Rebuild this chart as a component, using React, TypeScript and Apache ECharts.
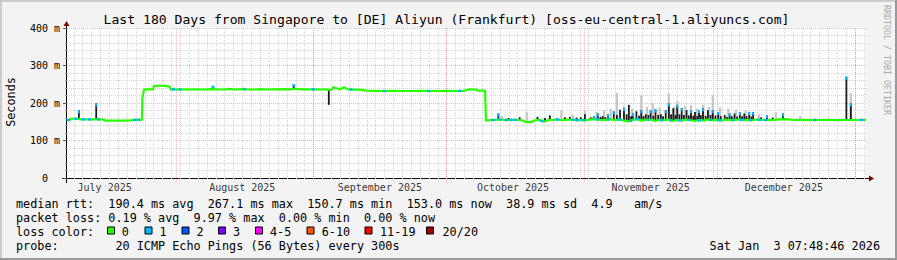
import React, { useEffect, useRef } from 'react';
import * as echarts from 'echarts';

// x values are days since 2025-07-01 00:00
const X_MIN = 6.52;
const X_MAX = 186.52;

const yTicks = [0, 100, 200, 300, 400];

const monthStarts = [31, 62, 92, 123, 153, 184];
const monthLabels: [number, string][] = [
  [15, 'July 2025'],
  [46, 'August 2025'],
  [77, 'September 2025'],
  [107, 'October 2025'],
  [138, 'November 2025'],
  [168, 'December 2025'],
];

// median rtt (ms)
const median: [number, number][] = [
  [6.5, 154], [7.2, 155], [7.3, 158], [8, 158], [9, 158], [9.5, 156], [10, 156.5], [11, 156.5], [12, 156.5],
  [13, 156.5], [14, 156.5], [14.8, 156], [15, 153], [16, 153], [17, 153], [18, 153], [19, 153], [20, 153],
  [21, 154], [22, 155], [23, 155], [23.4, 155], [23.5, 215], [23.9, 236.5], [25, 236.5], [25.9, 236.5],
  [26.1, 245], [27, 246], [28, 246], [29, 245], [29.6, 244], [29.8, 236.5], [31, 236.5], [32, 236],
  [33, 236.5], [34, 236], [35, 236.5], [36, 236.5], [37, 236], [38, 236.5], [39, 237], [40, 236.5],
  [41, 236], [42, 236], [43, 237.5], [44, 236.5], [45, 236], [46, 237.5], [47, 236.5], [48, 236],
  [49, 236], [50, 237], [51, 236.5], [52, 236], [53, 236.5], [54, 236.5], [55, 237], [56, 236.5],
  [57, 236.5], [58, 238], [59, 236.5], [60, 236.5], [61, 236.5], [62, 236.5], [63, 236.5], [64, 236],
  [65, 236.5], [66, 234], [66.5, 242], [67, 240], [68, 236.5], [69, 242], [69.5, 238], [70, 236],
  [71, 235.5], [72, 235.5], [73, 235], [74, 233], [76, 232.5], [78, 232], [80, 232.5], [82, 232],
  [84, 232], [86, 232.5], [88, 232], [90, 232], [92, 232.5], [94, 232], [96, 232.5], [97.2, 236.5],
  [98.8, 236], [99, 233], [100, 233], [100.7, 233], [100.9, 153], [101, 153], [102, 154.7], [103, 155],
  [104, 156], [105, 154.7], [106, 154.7], [107, 155], [108, 154.7], [109, 154], [110, 149], [111, 149],
  [112, 154], [113, 155], [114, 150], [115, 154.7], [116, 155], [117, 156], [118, 154], [119, 155],
  [120, 156], [121, 154], [122, 155], [123, 154], [124, 155], [125, 157], [126, 156], [127, 154],
  [128, 155], [129, 157], [130, 154], [131, 156], [132, 153], [133, 151], [134, 155], [135, 157],
  [136, 153], [137, 155], [138, 156], [139, 152], [140, 155], [141, 154], [142, 156], [143, 152],
  [144, 155], [145, 153], [146, 156], [147, 154], [148, 152], [149, 155], [150, 153], [151, 156],
  [152, 154], [153, 155], [154, 153], [155, 156], [156, 154], [157, 155], [158, 156], [159, 154],
  [160, 155], [161, 154], [162, 156], [163, 154.7], [164, 154.7], [165, 154.7], [166, 155], [167, 156.5],
  [168, 157], [169, 156.5], [170, 154.7], [172, 154.7], [174, 154.5], [176, 154.7], [178, 154.7],
  [180, 154.5], [182, 154.7], [184, 154.7], [186.5, 154.7],
];

// median points drawn with 1/20 loss colour
const lossOne: [number, number][] = [
  [6.8, 155], [8.5, 158], [10.2, 156.5], [11.6, 156.5], [13.6, 156.5], [21.8, 154.8], [22.6, 155],
  [30.5, 236.5], [32, 236], [39.4, 243], [46.5, 237], [57.6, 247], [62, 236.5], [70.5, 236], [78, 232],
  [88, 232], [95, 232.3], [102.5, 154.7], [104, 156], [105.5, 154.7], [106.5, 154.7], [107.5, 155],
  [113.5, 152], [117, 156], [120.5, 155], [121.5, 154.5], [123, 154], [126, 156], [128.5, 156],
  [131, 156], [133.5, 153], [135, 157], [137.5, 155.5], [140.5, 154.5], [142.5, 154], [144.5, 154],
  [146.5, 155], [149, 153.5], [151.5, 155], [153.5, 154], [156.5, 154.5], [158.5, 155], [160.5, 154.5],
  [162.5, 155], [164, 154.7], [175, 154.7], [185.5, 154.7],
];

// dense smoke (dark): [day, low ms, high ms, loss-coloured top]
const darkSmoke: [number, number, number, number][] = [
  [9.2, 158, 181, 1], [13.1, 156.5, 199, 1], [39.4, 237, 245, 0], [57.6, 236.5, 248, 0], [65.5, 195, 236, 0],
  [103.7, 156, 172, 1], [106.0, 154.7, 160, 0], [108.5, 154.7, 162, 0], [112.5, 154, 163, 0], [114.2, 150, 160, 0],
  [115.3, 155, 167, 0], [118.7, 154, 162, 0], [119.8, 155, 163, 0], [121.3, 154, 161, 0], [122.3, 155, 162, 0],
  [123.2, 154, 170, 0], [124.5, 155, 162, 0],
  [125.2, 156, 165, 1], [126.1, 156, 172, 1], [126.7, 155, 163, 0], [127.2, 154, 165, 0], [127.8, 154, 162, 0],
  [128.4, 155, 170, 1], [129.7, 157, 178, 1], [130.4, 154, 168, 0],
  [131.1, 156, 182, 0], [132.0, 153, 186, 1], [132.6, 153, 170, 0], [133.1, 151, 195, 0], [133.6, 152, 165, 0],
  [134.0, 155, 172, 1], [134.8, 157, 178, 0], [135.4, 156, 166, 0],
  [135.9, 153, 181, 1], [136.4, 153, 165, 0], [136.9, 155, 170, 0], [137.5, 155, 168, 0], [138.0, 156, 181, 1],
  [138.6, 156, 166, 0], [139.1, 152, 183, 1], [139.7, 153, 168, 0], [140.3, 155, 170, 0], [140.8, 155, 165, 0],
  [141.4, 154, 181, 1], [142.1, 156, 199, 1], [142.6, 156, 170, 0], [143.1, 152, 186, 0], [143.6, 152, 168, 0],
  [144.0, 155, 195, 1], [144.5, 154, 170, 0], [145.0, 153, 186, 1], [145.5, 153, 168, 0],
  [146.1, 156, 181, 0], [146.6, 156, 167, 0], [147.1, 154, 181, 1], [147.6, 154, 166, 0], [148.0, 152, 176, 0],
  [148.5, 152, 165, 0], [148.9, 155, 181, 1], [149.3, 155, 168, 0], [149.8, 153, 186, 1], [150.4, 154, 166, 0],
  [150.9, 156, 181, 0], [151.5, 155, 168, 0], [152.0, 154, 181, 1], [152.6, 154, 167, 0], [153.2, 155, 176, 1],
  [153.8, 155, 165, 0], [154.7, 153, 168, 0], [155.2, 154, 163, 0], [155.8, 156, 172, 1], [156.3, 155, 165, 0],
  [156.9, 154, 172, 0], [157.5, 155, 164, 0], [158.1, 156, 176, 1], [158.6, 155, 165, 0], [159.1, 154, 172, 0],
  [159.6, 154, 165, 0], [160.2, 155, 176, 1], [160.7, 155, 164, 0], [161.1, 154, 176, 1], [162.9, 155, 162, 0],
  [164.2, 154.7, 168, 1], [165.5, 155, 161, 0], [167.8, 157, 172, 1], [182.1, 154.7, 270, 1], [183.1, 154.7, 199, 1],
];

// light smoke: [day, low ms, high ms]
const lightSmoke: [number, number, number][] = [
  [104.5, 155, 165], [110.1, 149, 176], [117.9, 154, 181], [120.5, 155, 168], [123.2, 154, 180],
  [125.8, 155, 176], [127.5, 154, 180], [129.0, 156, 185], [130.4, 154, 227], [132.0, 153, 192],
  [133.8, 152, 185], [135.9, 153, 221], [137.2, 155, 190], [138.5, 155, 200], [140.0, 154, 188],
  [142.1, 156, 226], [143.4, 152, 190], [144.0, 155, 205], [145.8, 154, 192], [147.1, 154, 195],
  [148.4, 153, 185], [149.8, 153, 195], [151.2, 155, 190], [152.0, 154, 221], [153.6, 155, 188],
  [155.5, 155, 185], [157.2, 155, 182], [159.4, 154, 180], [162.4, 156, 170], [166.2, 155, 176],
  [171.7, 154.7, 165], [183.1, 154.7, 226],
];

const lossColors: [string, string][] = [
  ['0', '#26ff00'], ['1', '#00b8ff'], ['2', '#0059ff'], ['3', '#7e00ff'],
  ['4-5', '#ff00ff'], ['6-10', '#ff5500'], ['11-19', '#ff0000'], ['20/20', '#a10000'],
];

const TITLE = 'Last 180 Days from Singapore to [DE] Aliyun (Frankfurt) [oss-eu-central-1.aliyuncs.com]';
const ROW1 = 'median rtt:  190.4 ms avg  267.1 ms max  150.7 ms min  153.0 ms now  38.9 ms sd  4.9   am/s';
const ROW2 = 'packet loss: 0.19 % avg  9.97 % max  0.00 % min  0.00 % now';
const ROW3 = 'loss color:';
const ROW4 = 'probe:        20 ICMP Echo Pings (56 Bytes) every 300s';
const STAMP = 'Sat Jan  3 07:48:46 2026';

const MONO = '"DejaVu Sans Mono", monospace';
const nb = (s: string) => s.replace(/ /g, '\u00a0');

const minorDays: number[] = [];
for (let d = 8; d <= 186; d += 2) minorDays.push(d);

function vline(color: string, ext: number) {
  return (params: any, api: any) => {
    const d = api.value(0);
    const t = api.coord([d, 400]);
    const b = api.coord([d, 0]);
    const x = Math.round(t[0]) + 0.5;
    return {
      type: 'line',
      silent: true,
      shape: { x1: x, y1: t[1], x2: x, y2: b[1] + ext },
      style: { stroke: color, lineWidth: 1, lineDash: [1, 1] },
    };
  };
}

function seg(color: string, width: number) {
  return (p: any, api: any) => {
    const a = api.coord([api.value(0), api.value(1)]);
    const b = api.coord([api.value(0), api.value(2)]);
    return { type: 'line', shape: { x1: a[0], y1: a[1], x2: b[0], y2: b[1] }, style: { stroke: color, lineWidth: width } };
  };
}

export default function App() {
  const ref = useRef<HTMLDivElement>(null);
  useEffect(() => {
    document.body.style.margin = '0';
    const chart = echarts.init(ref.current!, null, { renderer: 'svg' });

    const boxX = [107.5, 145, 182, 218.5, 255.5, 307, 365, 426.5];
    const labX = [121.7, 159.5, 196.5, 233, 270, 321.7, 380, 442.5];
    const legendGraphics: any[] = [];
    lossColors.forEach(([lab, col], i) => {
      legendGraphics.push({
        type: 'rect',
        shape: { x: boxX[i], y: 227, width: 7, height: 7 },
        style: { fill: col, stroke: '#000', lineWidth: 1 },
      });
      legendGraphics.push({
        type: 'text',
        style: { text: lab, x: labX[i], y: 231.7, font: `11.8px ${MONO}`, fill: '#000', textAlign: 'left', textVerticalAlign: 'middle' },
      });
    });

    chart.setOption({
      animation: false,
      backgroundColor: '#f3f3f3',
      grid: { left: 67, top: 28, width: 799, height: 150, show: true, backgroundColor: '#ffffff', borderWidth: 0 },
      xAxis: {
        type: 'value', min: X_MIN, max: X_MAX,
        axisLine: { show: false }, axisTick: { show: false }, axisLabel: { show: false }, splitLine: { show: false },
      },
      yAxis: {
        type: 'value', min: yTicks[0], max: yTicks[yTicks.length - 1], interval: 100,
        axisLine: { show: false },
        axisTick: { show: true, length: 4, lineStyle: { color: '#555' } },
        minorTick: { show: true, splitNumber: 5, length: 2, lineStyle: { color: '#999' } },
        axisLabel: {
          margin: 7, color: '#000', fontFamily: MONO, fontSize: 10,
          formatter: (v: number) => (v === 0 ? '0\u00a0\u00a0' : `${v}\u00a0m`),
        },
        splitLine: { show: true, lineStyle: { color: 'rgba(255,0,0,0.3)', width: 1, type: [1, 1] } },
        minorSplitLine: { show: true, lineStyle: { color: '#d4d4d4', width: 1, type: [1, 1] } },
      },
      series: [
        { type: 'custom', z: 1, silent: true, data: minorDays.map((d) => [d]), renderItem: vline('#d4d4d4', 2) },
        { type: 'custom', z: 1, silent: true, data: monthStarts.map((d) => [d]), renderItem: vline('rgba(255,0,0,0.3)', 4) },
        { type: 'custom', z: 3, silent: true, data: lightSmoke, renderItem: seg('#c6c6c6', 2.2) },
        { type: 'custom', z: 4, silent: true, data: darkSmoke, renderItem: seg('#1c1c1c', 1.8) },
        {
          type: 'line', z: 5, silent: true, data: median, showSymbol: false,
          lineStyle: { color: '#26ff00', width: 2.2 },
        },
        {
          type: 'custom', z: 6, silent: true, data: lossOne,
          renderItem: (p: any, api: any) => {
            const a = api.coord([api.value(0) - 0.35, api.value(1)]);
            const b = api.coord([api.value(0) + 0.35, api.value(1)]);
            return { type: 'line', shape: { x1: a[0], y1: a[1], x2: b[0], y2: b[1] }, style: { stroke: '#00b8ff', lineWidth: 2.4 } };
          },
        },
        {
          type: 'custom', z: 6, silent: true, data: darkSmoke.filter((s) => s[3] === 1),
          renderItem: (p: any, api: any) => {
            const t = api.coord([api.value(0), api.value(2)]);
            return { type: 'line', shape: { x1: t[0], y1: t[1], x2: t[0], y2: t[1] + 3 }, style: { stroke: '#00b8ff', lineWidth: 2 } };
          },
        },
        {
          type: 'scatter', z: 7, silent: true, symbolSize: 0,
          data: monthLabels.map(([d, n]) => ({ value: [d, 0], name: n })),
          label: { show: true, position: 'bottom', distance: 4, formatter: '{b}', color: '#000', fontFamily: MONO, fontSize: 10 },
        },
      ],
      graphic: [
        { type: 'rect', shape: { x: 0, y: 0, width: 897, height: 2 }, style: { fill: '#cbcbcb' } },
        { type: 'rect', shape: { x: 0, y: 0, width: 2, height: 260 }, style: { fill: '#cbcbcb' } },
        { type: 'rect', shape: { x: 0, y: 258, width: 897, height: 2 }, style: { fill: '#999999' } },
        { type: 'rect', shape: { x: 895, y: 0, width: 2, height: 260 }, style: { fill: '#999999' } },
        { type: 'line', shape: { x1: 62, y1: 178.5, x2: 869, y2: 178.5 }, style: { stroke: '#000', lineWidth: 1 } },
        { type: 'polygon', shape: { points: [[869, 175.5], [874, 178.5], [869, 181.5]] }, style: { fill: '#7f0000' } },
        { type: 'line', shape: { x1: 66.5, y1: 183, x2: 66.5, y2: 26 }, style: { stroke: '#000', lineWidth: 1 } },
        { type: 'polygon', shape: { points: [[63.5, 26], [66.5, 21], [69.5, 26]] }, style: { fill: '#7f0000' } },
        { type: 'text', style: { text: TITLE, x: 446.5, y: 19.5, font: `13.1px ${MONO}`, fill: '#000', textAlign: 'center', textVerticalAlign: 'middle' } },
        { type: 'text', x: 11, y: 102, rotation: Math.PI / 2, style: { text: 'Seconds', x: 0, y: 0, font: `11.8px ${MONO}`, fill: '#000', textAlign: 'center', textVerticalAlign: 'middle' } },
        { type: 'text', x: 887, y: 5, rotation: -Math.PI / 2, style: { text: 'RRDTOOL / TOBI OETIKER', x: 0, y: 0, font: `8.3px ${MONO}`, fill: '#a8a8a8', textAlign: 'left', textVerticalAlign: 'middle' } },
        { type: 'text', style: { text: nb(ROW1), x: 16, y: 204, font: `11.8px ${MONO}`, fill: '#000', textAlign: 'left', textVerticalAlign: 'middle' } },
        { type: 'text', style: { text: nb(ROW2), x: 16, y: 218.3, font: `11.8px ${MONO}`, fill: '#000', textAlign: 'left', textVerticalAlign: 'middle' } },
        { type: 'text', style: { text: nb(ROW3), x: 16, y: 231.7, font: `11.8px ${MONO}`, fill: '#000', textAlign: 'left', textVerticalAlign: 'middle' } },
        { type: 'text', style: { text: nb(ROW4), x: 16, y: 246, font: `11.8px ${MONO}`, fill: '#000', textAlign: 'left', textVerticalAlign: 'middle' } },
        { type: 'text', style: { text: nb(STAMP), x: 880, y: 246, font: `11.8px ${MONO}`, fill: '#000', textAlign: 'right', textVerticalAlign: 'middle' } },
        ...legendGraphics,
      ],
    });
    return () => chart.dispose();
  }, []);
  return <div ref={ref} style={{ position: 'absolute', left: 0, top: 0, width: 897, height: 260 }} />;
}
